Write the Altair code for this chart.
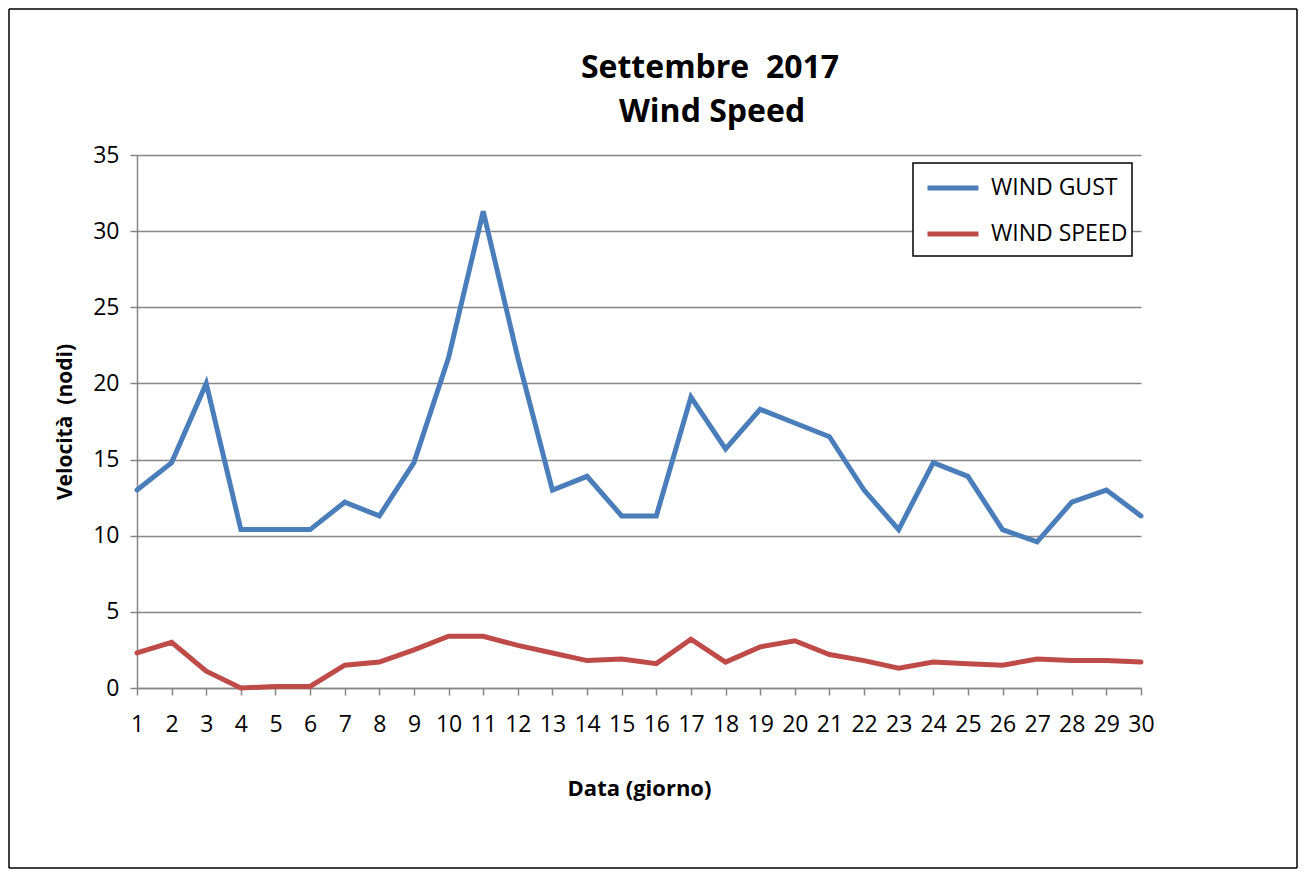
import altair as alt
import pandas as pd

days = list(range(1, 31))
wind_gust = [13.0, 14.8, 20.0, 10.4, 10.4, 10.4, 12.2, 11.3, 14.8, 21.7,
             31.3, 21.7, 13.0, 13.9, 11.3, 11.3, 19.1, 15.7, 18.3, 17.4,
             16.5, 13.0, 10.4, 14.8, 13.9, 10.4, 9.6, 12.2, 13.0, 11.3]
wind_speed = [2.3, 3.0, 1.1, 0.0, 0.1, 0.1, 1.5, 1.7, 2.5, 3.4,
              3.4, 2.8, 2.3, 1.8, 1.9, 1.6, 3.2, 1.7, 2.7, 3.1,
              2.2, 1.8, 1.3, 1.7, 1.6, 1.5, 1.9, 1.8, 1.8, 1.7]
series = ["WIND GUST", "WIND SPEED"]
colors = ["#4a7ebb", "#be4b48"]
y_ticks = [0, 5, 10, 15, 20, 25, 30, 35]
title_lines = ["Settembre\u00a0 2017", "Wind Speed"]

df = pd.concat([
    pd.DataFrame({"day": days, "value": wind_gust, "series": series[0]}),
    pd.DataFrame({"day": days, "value": wind_speed, "series": series[1]}),
])

FONT = "Open Sans"
W, H = 1004, 533
one = pd.DataFrame({"a": [0]})


def hrule(x1, x2, y, w=1.5):
    return alt.Chart(one).mark_rule(color="black", strokeWidth=w).encode(
        x=alt.value(x1), x2=alt.value(x2), y=alt.value(y))


def vrule(x, y1, y2, w=1.5):
    return alt.Chart(one).mark_rule(color="black", strokeWidth=w).encode(
        x=alt.value(x), y=alt.value(y1), y2=alt.value(y2))


# outer chart frame (kept inside the svg canvas)
frame = [hrule(-128, 1160, -146), hrule(-128, 1160, 713),
         vrule(-128, -146, 713), vrule(1160, -146, 713)]

# legend box
legend_box = alt.Chart(one).mark_rect(
    fill="white", stroke="black", strokeWidth=1.5
).encode(x=alt.value(776), x2=alt.value(995), y=alt.value(8), y2=alt.value(101))

title1 = alt.Chart(pd.DataFrame({"t": [title_lines[0]]})).mark_text(
    fontSize=32, fontWeight="bold", font=FONT, color="black",
    align="center", baseline="middle"
).encode(text="t:N", x=alt.value(573), y=alt.value(-87))

title2 = alt.Chart(pd.DataFrame({"t": [title_lines[1]]})).mark_text(
    fontSize=32, fontWeight="bold", font=FONT, color="black",
    align="center", baseline="middle"
).encode(text="t:N", x=alt.value(575), y=alt.value(-43))

lines = alt.Chart(df).mark_line(strokeWidth=5, strokeCap="round", strokeJoin="miter").encode(
    x=alt.X("day:Q",
            scale=alt.Scale(domain=[1, 30], nice=False, zero=False),
            axis=alt.Axis(values=days, title="Data (giorno)", grid=False,
                          labelFontSize=23, labelColor="black", labelPadding=18,
                          tickSize=7, tickColor="#868686", domainColor="#868686",
                          domainWidth=1.5, tickWidth=1.5,
                          titleFontSize=22, titleFontWeight="bold", titleColor="black",
                          titlePadding=42, labelFlush=False)),
    y=alt.Y("value:Q",
            scale=alt.Scale(domain=[0, 35], nice=False),
            axis=alt.Axis(values=y_ticks, title="Velocità\u00a0 (nodi)", grid=True,
                          gridColor="#868686", gridWidth=1.5,
                          labelFontSize=23, labelColor="black", labelPadding=11,
                          tickSize=7, tickColor="#868686", tickWidth=1.5,
                          domainColor="#868686", domainWidth=1.5,
                          titleFontSize=21, titleFontWeight="bold", titleColor="black",
                          titlePadding=17)),
    color=alt.Color("series:N",
                    scale=alt.Scale(domain=series, range=colors),
                    legend=alt.Legend(title=None, orient="none", legendX=788, legendY=5,
                                      symbolType="stroke", symbolStrokeWidth=5,
                                      symbolSize=2600, labelFontSize=23,
                                      labelColor="black", padding=0, rowPadding=6,
                                      labelOffset=10)),
)

chart = alt.layer(*frame, legend_box, title1, title2, lines).properties(
    width=W, height=H,
    padding={"left": 129, "top": 147, "right": 157, "bottom": 181},
    autosize=alt.AutoSizeParams(type="none"),
).configure(font=FONT).configure_view(stroke=None)

chart.save("out.html", embed_options={"renderer": "svg", "actions": False})
